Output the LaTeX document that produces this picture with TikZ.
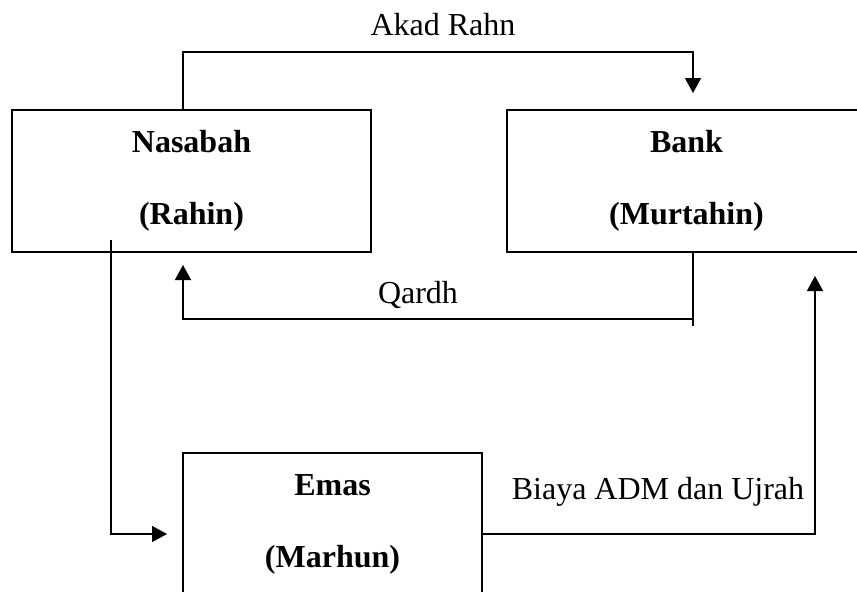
\documentclass[tikz,border=0pt]{standalone}
\usepackage{fontspec}
\setmainfont{Liberation Serif}
\usetikzlibrary{calc}
\usetikzlibrary{arrows.meta}

\tikzset{
 pihak/.style={draw, line width=0.7pt, align=center, font=\fontsize{16}{19}\selectfont\bfseries},
 alur/.style={line width=0.7pt},
 ket/.style={font=\fontsize{16}{19}\selectfont, inner sep=0}
}

\begin{document}
\begin{tikzpicture} [x=0.5pt, y=-0.5pt, >={Triangle[length=7.5pt,width=8pt]}]
\useasboundingbox (0,0) rectangle (857,591);
% pihak
\node[pihak, minimum width=179.5pt, minimum height=71pt] (nasabah) at (191.5,181) {Nasabah\\[17pt](Rahin)};
\node[pihak, minimum width=179.5pt, minimum height=71pt] (bank) at (686.5,181) {Bank\\[17pt](Murtahin)};
\node[pihak, minimum width=149.5pt, minimum height=71pt] (emas) at (332.5,524) {Emas\\[17pt](Marhun)};
% titik bantu
\coordinate (akadtop) at (183,52);
\coordinate (akadend) at (693,93);
\coordinate (qardhend) at (183,265);
\coordinate (qardhbawah) at (693,326);
\coordinate (qardhsudut) at (693,319);
\coordinate (gadai) at (111,240);
\coordinate (gadaiend) at (167,534);
\coordinate (biayasudut) at (815,534);
\coordinate (biayaend) at (815,276);
% alur
\draw[alur, ->] (nasabah.north -| akadtop) -- (akadtop) -| (akadend);
\draw[alur] (bank.south -| qardhbawah) -- (qardhbawah);
\draw[alur, ->] (qardhsudut) -| (qardhend);
\draw[alur, ->] (gadai) |- (gadaiend);
\draw[alur, ->] (emas.east |- biayasudut) -- (biayasudut) -- (biayaend);
% keterangan
\node[ket] (akad) at (443,25) {Akad Rahn};
\node[ket] (qardh) at (418,295) {Qardh};
\node[ket] (biaya) at (658,492) {Biaya ADM dan Ujrah};
\end{tikzpicture}
\end{document}
